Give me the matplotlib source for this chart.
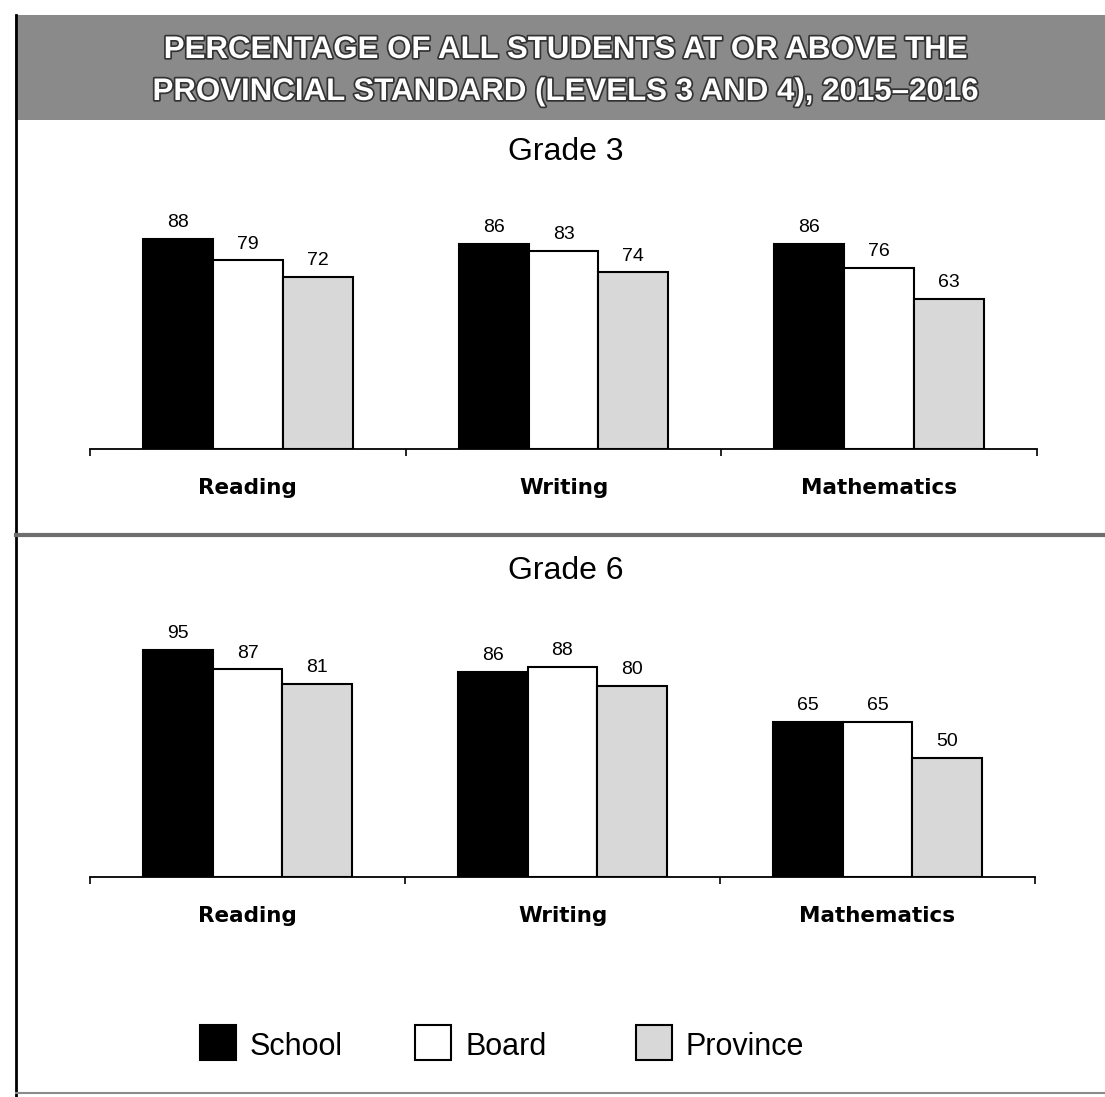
"""
Percentage of all students at or above the provincial standard, 2015-2016
"""
import matplotlib
matplotlib.use('Agg')
import matplotlib.pyplot as plt
import matplotlib.patheffects as pe
from matplotlib.patches import Rectangle
from matplotlib.lines import Line2D
import numpy as np

subjects = ['Reading', 'Writing', 'Mathematics']
series = ['School', 'Board', 'Province']

grade3_school = [88, 86, 86]
grade3_board = [79, 83, 76]
grade3_province = [72, 74, 63]

grade6_school = [95, 86, 65]
grade6_board = [87, 88, 65]
grade6_province = [81, 80, 50]

colors = ['#000000', '#ffffff', '#d8d8d8']

W, H = 1105, 1097
fig = plt.figure(figsize=(W / 100, H / 100), dpi=100)


def fx(px):
    return px / W


def fy(py):
    return (H - py) / H


def draw_panel(ax, values, label_y):
    x = np.arange(len(subjects))
    width = 0.2215
    for i, (vals, col) in enumerate(zip(values, colors)):
        bars = ax.bar(x + (i - 1) * width, vals, width=width, color=col,
                      edgecolor='black', linewidth=1.5, zorder=2)
        for b, v in zip(bars, vals):
            ax.text(b.get_x() + b.get_width() / 2, v + 3.3, str(v),
                    ha='center', va='bottom', fontsize=14,
                    family='Liberation Sans')
    ax.set_xlim(-0.5, 2.5)
    ax.set_ylim(0, 110)
    for s in ['left', 'right', 'top']:
        ax.spines[s].set_visible(False)
    ax.spines['bottom'].set_linewidth(1.3)
    ax.set_yticks([])
    ax.set_xticks([-0.5, 0.5, 1.5, 2.5])
    ax.set_xticklabels([])
    ax.tick_params(axis='x', direction='out', length=5, width=1.2)
    for xi, name in zip(x, subjects):
        fig.text(ax.transData.transform((xi, 0))[0] / W, fy(label_y), name,
                 ha='center', va='center', fontsize=15.5, fontweight='bold',
                 family='DejaVu Sans')


ax_h = 262.5 / H
ax1 = fig.add_axes([fx(90), fy(449), fx(1037) - fx(90), ax_h])
ax2 = fig.add_axes([fx(90), fy(877), fx(1035) - fx(90), ax_h])

draw_panel(ax1, [grade3_school, grade3_board, grade3_province], 488)
draw_panel(ax2, [grade6_school, grade6_board, grade6_province], 916)

# title band
fig.patches.append(Rectangle((fx(15), fy(120)), 1 - fx(15), fy(15) - fy(120),
                             transform=fig.transFigure, facecolor='#8a8a8a',
                             edgecolor='none', zorder=0))
title_fx = [pe.withStroke(linewidth=2.5, foreground='#333333')]
fig.text(fx(566), fy(50), 'PERCENTAGE OF ALL STUDENTS AT OR ABOVE THE',
         ha='center', va='center', color='white', fontsize=22.5, fontweight='bold',
         family='Liberation Sans', path_effects=title_fx)
fig.text(fx(566), fy(92), 'PROVINCIAL STANDARD (LEVELS 3 AND 4), 2015\u20132016',
         ha='center', va='center', color='white', fontsize=22.5, fontweight='bold',
         family='Liberation Sans', path_effects=title_fx)

# frame lines
fig.add_artist(Line2D([fx(16), fx(16)], [fy(15), 0], color='black', linewidth=2))
fig.add_artist(Line2D([fx(16), 1], [fy(535), fy(535)], color='#6e6e6e', linewidth=3))
fig.add_artist(Line2D([fx(16), 1], [fy(1093), fy(1093)], color='#8a8a8a', linewidth=1.5))

fig.text(fx(566), fy(152), 'Grade 3', ha='center', va='center', fontsize=23,
         family='Liberation Sans')
fig.text(fx(566), fy(571), 'Grade 6', ha='center', va='center', fontsize=23,
         family='Liberation Sans')

# legend
for name, col, lx in zip(series, colors, [200, 415, 636]):
    fig.patches.append(Rectangle((fx(lx), fy(1060)), fx(36), fy(1025) - fy(1060),
                                 transform=fig.transFigure, facecolor=col,
                                 edgecolor='black', linewidth=1.5))
    fig.text(fx(lx + 50), fy(1047), name, ha='left', va='center', fontsize=22,
             family='Liberation Sans')

fig.savefig('out.png', dpi=100)
